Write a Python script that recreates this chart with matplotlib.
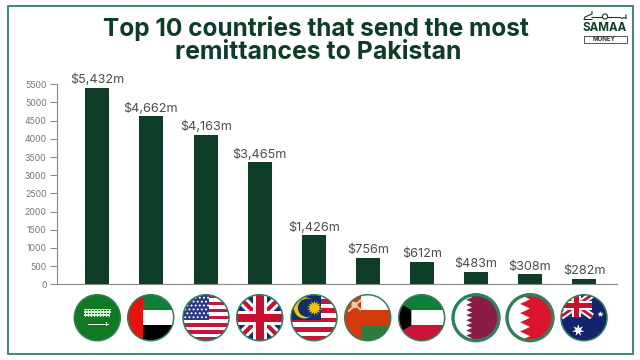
import numpy as np
import matplotlib
matplotlib.use('Agg')
import matplotlib.pyplot as plt
from matplotlib.patches import Circle, Polygon, Rectangle
from matplotlib.transforms import Affine2D

countries = ['Saudi Arabia', 'UAE', 'USA', 'UK', 'Malaysia', 'Oman', 'Kuwait', 'Qatar', 'Bahrain', 'Australia']
# bar heights as drawn in the picture, they don't quite follow the printed labels
bar_values = [5408, 4617, 4113, 3350, 1350, 725, 623, 347, 275, 154]
value_labels = ['$5,432m', '$4,662m', '$4,163m', '$3,465m', '$1,426m', '$756m', '$612m', '$483m', '$308m', '$282m']
bar_pos = [97.3, 150.7, 206, 259.7, 314, 367.7, 421.7, 476, 530, 584]
y_ticks = [0, 500, 1000, 1500, 2000, 2500, 3000, 3500, 4000, 4500, 5000, 5500]

DARK = '#0d3d26'
RIM = '#2f8059'
plt.rcParams['font.family'] = ['Inter', 'DejaVu Sans']

fig = plt.figure(figsize=(6.4, 3.6), dpi=100)

# whole figure in pixels, for border, title, logo and flags
ov = fig.add_axes([0, 0, 1, 1])
ov.set_xlim(0, 640)
ov.set_ylim(360, 0)
ov.axis('off')

ax = fig.add_axes([57 / 640, (360 - 284.3) / 360, 560 / 640, 200 / 360])
ax.patch.set_alpha(0)
ax.bar(bar_pos, bar_values, width=24, color=DARK)
ax.set_xlim(57, 617)
ax.set_ylim(0, 5500)
ax.set_yticks(y_ticks)
ax.set_xticks([])
ax.tick_params(axis='y', length=5, width=0.7, color='#888888', labelcolor='#777777', labelsize=6.3, pad=2.5)
for s in ['top', 'right']:
    ax.spines[s].set_visible(False)
for s in ['left', 'bottom']:
    ax.spines[s].set_color('#888888')
    ax.spines[s].set_linewidth(0.8)
for x, v, lab in zip(bar_pos, bar_values, value_labels):
    ax.annotate(lab, (x, v), xytext=(0, 5.6), textcoords='offset points', ha='center', va='center',
                fontsize=9.1, color='#4d4d4d')

ov.add_patch(Rectangle((8, 6), 625, 348, fill=False, ec=RIM, lw=1.3))
ov.text(316, 28.5, 'Top 10 countries that send the most', ha='center', va='center', fontsize=17.6, fontweight='bold', color=DARK)
ov.text(318.5, 52.5, 'remittances to Pakistan', ha='center', va='center', fontsize=17.9, fontweight='bold', color=DARK)

# logo
ov.plot([592, 584, 585, 592, 592], [19.5, 19.5, 17, 14, 11.5], color=DARK, lw=0.8)
ov.plot([592, 620, 622, 624, 626, 626], [17.5, 17.5, 18.5, 17.5, 18.5, 15], color=DARK, lw=0.8)
ov.add_patch(Circle((605, 16.5), 2.6, fc='white', ec=DARK, lw=0.8, zorder=3))
ov.text(604.5, 28.3, 'SAMAA', ha='center', va='center', fontsize=8.3, fontweight='bold', color=DARK)
ov.add_patch(Rectangle((583.5, 36), 43, 6.5, fill=False, ec='#555555', lw=0.7))
ov.text(604.5, 39.3, 'MONEY', ha='center', va='center', fontsize=4.4, fontweight='bold', color='#333333')


def star(cx, cy, r, n=5, inner=0.42, rot=90):
    ang = np.radians(rot) + np.arange(2 * n) * np.pi / n
    rad = np.where(np.arange(2 * n) % 2 == 0, r, r * inner)
    return np.column_stack([cx + rad * np.cos(ang), cy + rad * np.sin(ang)])


def union_jack(add, x0, x1, y0, y1):
    w = (x1 - x0) * 0.09
    add(Rectangle((x0, y0), x1 - x0, y1 - y0, fc='#12306e'))
    for a, b in [((x0, y0), (x1, y1)), ((x0, y1), (x1, y0))]:
        a, b = np.array(a, float), np.array(b, float)
        d = np.array([b[1] - a[1], a[0] - b[0]], float)
        d = d / np.hypot(*d)
        for width, col in [(w * 1.2, 'white'), (w * 0.5, '#c8102e')]:
            add(Polygon([a + d * width, b + d * width, b - d * width, a - d * width], fc=col))
    mx, my = (x0 + x1) / 2, (y0 + y1) / 2
    for width, col in [(w * 1.7, 'white'), (w * 1.0, '#c8102e')]:
        add(Rectangle((mx - width, y0), 2 * width, y1 - y0, fc=col))
        add(Rectangle((x0, my - width), x1 - x0, 2 * width, fc=col))


def serrated(add, color, x_in, x_out, n):
    # white hoist with a zigzag edge, Qatar and Bahrain
    add(Rectangle((-1, -1), 2, 2, fc='white'))
    ys = np.linspace(1, -1, 2 * n + 1)
    edge = [(x_in if i % 2 == 0 else x_out, y) for i, y in enumerate(ys)]
    add(Polygon(edge + [(1, -1), (1, 1)], fc=color))


def draw_flag(name, add):
    if name == 'Saudi Arabia':
        add(Rectangle((-1, -1), 2, 2, fc='#0f7a22'))
        for y, x0, x1 in [(0.32, -0.58, 0.6), (0.2, -0.6, 0.6), (0.08, -0.6, 0.5)]:
            add(Rectangle((x0, y), x1 - x0, 0.075, fc='#d8ecd8'))
        for x in np.arange(-0.55, 0.6, 0.13):
            add(Rectangle((x, 0.05), 0.05, 0.35, fc='#d8ecd8'))
        add(Rectangle((-0.4, -0.3), 0.9, 0.04, fc='white'))
        add(Rectangle((0.36, -0.36), 0.05, 0.16, fc='white'))
    elif name == 'UAE':
        add(Rectangle((-1, -1), 2, 2, fc='white'))
        add(Rectangle((-0.32, 0.33), 1.4, 0.7, fc='#0f7f3a'))
        add(Rectangle((-0.32, -1), 1.4, 0.67, fc='black'))
        add(Rectangle((-1, -1), 0.68, 2, fc='#f00d0d'))
    elif name == 'USA':
        add(Rectangle((-1, -1), 2, 2, fc='white'))
        ys = np.linspace(-1, 1, 14)
        for i in range(0, 13, 2):
            add(Rectangle((-1, ys[i]), 2, ys[1] - ys[0], fc='#c4163f'))
        add(Rectangle((-1, -0.08), 1.12, 1.1, fc='#2a3a7e'))
        for i, y in enumerate(np.arange(0.02, 1, 0.17)):
            for x in np.arange(-0.9 + 0.09 * (i % 2), 0.1, 0.18):
                add(Circle((x, y), 0.045, fc='white'))
    elif name == 'UK':
        union_jack(add, -1, 1, -1, 1)
    elif name == 'Malaysia':
        add(Rectangle((-1, -1), 2, 2, fc='white'))
        ys = np.linspace(-1, 1, 11)
        for i in range(0, 10, 2):
            add(Rectangle((-1, ys[i]), 2, ys[1] - ys[0], fc='#cc1236'))
        add(Rectangle((-1, -0.1), 1.3, 1.1, fc='#12306e'))
        add(Circle((-0.42, 0.43), 0.46, fc='#f5c400'))
        add(Circle((-0.3, 0.43), 0.4, fc='#12306e'))
        add(Polygon(star(0.02, 0.42, 0.32, n=14, inner=0.6), fc='#f5c400'))
    elif name == 'Oman':
        add(Rectangle((-1, -1), 2, 2, fc='#d23a0c'))
        add(Rectangle((-0.3, 0.33), 1.3, 0.7, fc='white'))
        add(Rectangle((-0.3, -1), 1.3, 0.67, fc='#2f7a3c'))
        add(Polygon([(-0.88, 0.3), (-0.3, 0.82), (-0.24, 0.76), (-0.82, 0.24)], fc='#f2c9a8'))
        add(Polygon([(-0.32, 0.3), (-0.86, 0.78), (-0.8, 0.84), (-0.26, 0.36)], fc='#f2c9a8'))
        add(Circle((-0.57, 0.55), 0.14, fc='#f2c9a8'))
    elif name == 'Kuwait':
        add(Rectangle((-1, -1), 2, 2, fc='white'))
        add(Rectangle((-1, 0.33), 2, 0.7, fc='#0f7f3a'))
        add(Rectangle((-1, -1), 2, 0.67, fc='#cc1236'))
        add(Polygon([(-1, 0.65), (-0.45, 0.33), (-0.45, -0.33), (-1, -0.65)], fc='black'))
    elif name == 'Qatar':
        serrated(add, '#8a1c48', -0.43, -0.17, 9)
    elif name == 'Bahrain':
        serrated(add, '#d9162b', -0.43, 0.0, 5)
    elif name == 'Australia':
        add(Rectangle((-1, -1), 2, 2, fc='#12246e'))
        union_jack(add, -1, 0.35, 0.05, 1)
        add(Polygon(star(-0.25, -0.55, 0.27, n=7), fc='white'))
        add(Polygon(star(0.72, 0.15, 0.14, n=7), fc='white'))


ring = {'Qatar': 2.4, 'Bahrain': 2.4}
for name, x in zip(countries, bar_pos):
    tr = Affine2D().scale(23, -23).translate(x, 317.7) + ov.transData
    clip = Circle((0, 0), 1, transform=tr, fc='none', ec='none')
    ov.add_patch(clip)

    def add(p, tr=tr, clip=clip):
        p.set_transform(tr)
        p.set_edgecolor('none')
        ov.add_patch(p)
        p.set_clip_path(clip)

    draw_flag(name, add)
    ov.add_patch(Circle((0, 0), 1, transform=tr, fill=False, ec=RIM, lw=ring.get(name, 1.1)))

fig.savefig('out.png', dpi=100)
